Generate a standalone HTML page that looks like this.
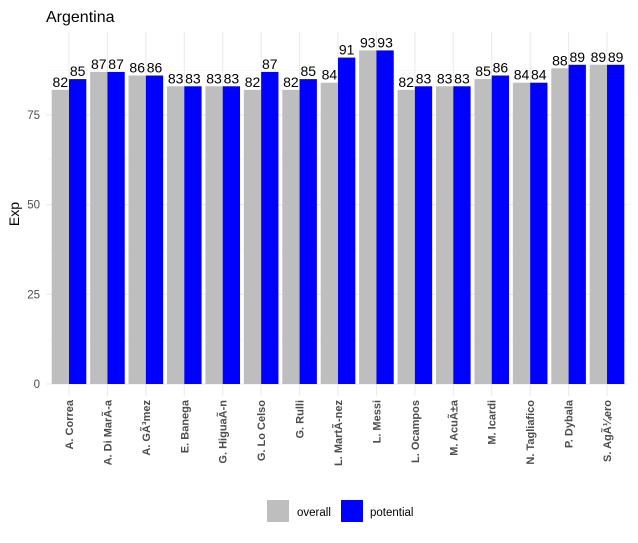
<!DOCTYPE html>
<html><head><meta charset="utf-8"><style>
body{margin:0;background:#fff;font-family:"Liberation Sans",Arial,sans-serif}
</style></head><body>
<svg id="chart" width="638" height="538" xmlns="http://www.w3.org/2000/svg">
<text x="46" y="22" font-size="16" fill="#000">Argentina</text>
<g id="grid"></g><g id="bars"></g><g id="axes"></g>
<text transform="translate(19,214) rotate(-90)" text-anchor="middle" font-size="14" fill="#000">Exp</text>
<g>
<rect x="267" y="500" width="22" height="22" fill="#bebebe"/>
<text x="297" y="516" font-size="11.5" fill="#000">overall</text>
<rect x="341" y="500" width="22" height="22" fill="#0000ff"/>
<text x="370" y="516" font-size="11.5" fill="#000">potential</text>
</g>
</svg>
<script>
const categories=["A. Correa","A. Di MarÃ-a","A. GÃ³mez","E. Banega","G. HiguaÃ-n","G. Lo Celso","G. Rulli","L. MartÃ-nez","L. Messi","L. Ocampos","M. AcuÃ±a","M. Icardi","N. Tagliafico","P. Dybala","S. AgÃ¼ero"];
const overall=[82,87,86,83,83,82,82,84,93,82,83,85,84,88,89];
const potential=[85,87,86,83,83,87,85,91,93,83,83,86,84,89,89];
const yTicks=[0,25,50,75];
const NS="http://www.w3.org/2000/svg";
const pLeft=46,pRight=628,pTop=32,pBottom=396;
const y=v=>384-v*3.587;
const step=38.43, x0=69;
const xc=i=>x0+i*step;
const bw=17.3;
function mk(tag,attrs,parent){const e=document.createElementNS(NS,tag);for(const k in attrs)e.setAttribute(k,attrs[k]);parent.appendChild(e);return e;}
const grid=document.getElementById('grid'),bars=document.getElementById('bars'),axes=document.getElementById('axes');
for(let v=12.5;v<100;v+=25){const l=mk('line',{x1:pLeft,x2:pRight,y1:y(v),y2:y(v),stroke:'#f3f3f3','stroke-width':0.6},grid);

}
yTicks.forEach(v=>{const l=mk('line',{x1:pLeft,x2:pRight,y1:y(v),y2:y(v),stroke:'#ebebeb','stroke-width':1.1},grid);


const t=mk('text',{x:40,y:y(v)+4,'text-anchor':'end','font-size':11.5,fill:'#4d4d4d'},axes);t.textContent=v;

});
categories.forEach((c,i)=>{const l=mk('line',{x1:xc(i),x2:xc(i),y1:pTop,y2:pBottom,stroke:'#ebebeb','stroke-width':1.1},grid);


[[overall[i],'#bebebe',-bw,'overall'],[potential[i],'#0000ff',0,'potential']].forEach(([v,col,off,nm])=>{
const r=mk('rect',{x:xc(i)+off,y:y(v),width:bw,height:y(0)-y(v),fill:col},bars);


const t=mk('text',{x:xc(i)+off+bw/2,y:y(v)-3,'text-anchor':'middle','font-size':14,fill:'#000'},bars);t.textContent=v;

});
const t=mk('text',{transform:`translate(${xc(i)+4},400) rotate(-90)`,'text-anchor':'end','font-size':11,'font-weight':'bold',fill:'#4d4d4d'},axes);t.textContent=c;

});
</script>
</body></html>
